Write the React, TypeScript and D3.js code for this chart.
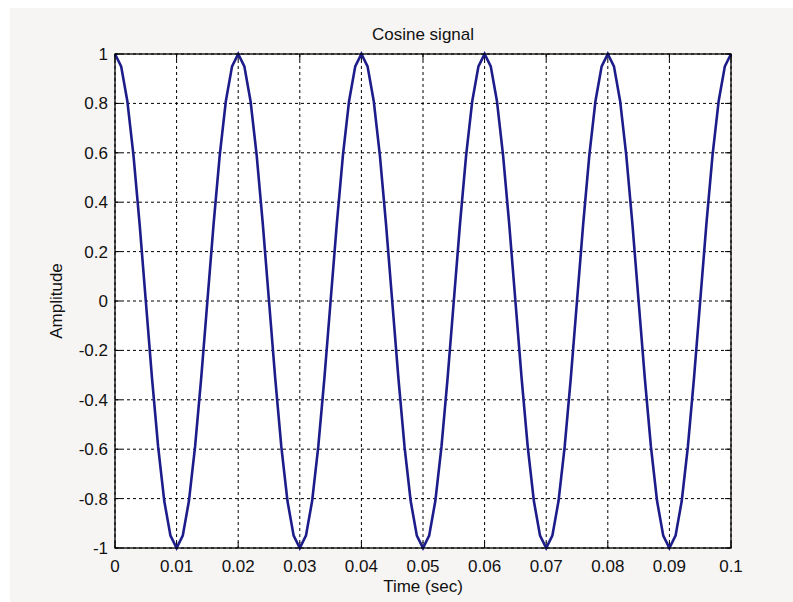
import React from "react";
import * as d3 from "d3";

const xTicks = [0, 0.01, 0.02, 0.03, 0.04, 0.05, 0.06, 0.07, 0.08, 0.09, 0.1];
const xTickLabels = ["0", "0.01", "0.02", "0.03", "0.04", "0.05", "0.06", "0.07", "0.08", "0.09", "0.1"];
const yTicks = [-1, -0.8, -0.6, -0.4, -0.2, 0, 0.2, 0.4, 0.6, 0.8, 1];
const yTickLabels = ["-1", "-0.8", "-0.6", "-0.4", "-0.2", "0", "0.2", "0.4", "0.6", "0.8", "1"];

const timeStep = 0.001;
const amplitude = [
  1, 0.95, 0.81, 0.59, 0.31, 0, -0.31, -0.59, -0.81, -0.95,
  -1, -0.95, -0.81, -0.59, -0.31, 0, 0.31, 0.59, 0.81, 0.95,
  1, 0.95, 0.81, 0.59, 0.31, 0, -0.31, -0.59, -0.81, -0.95,
  -1, -0.95, -0.81, -0.59, -0.31, 0, 0.31, 0.59, 0.81, 0.95,
  1, 0.95, 0.81, 0.59, 0.31, 0, -0.31, -0.59, -0.81, -0.95,
  -1, -0.95, -0.81, -0.59, -0.31, 0, 0.31, 0.59, 0.81, 0.95,
  1, 0.95, 0.81, 0.59, 0.31, 0, -0.31, -0.59, -0.81, -0.95,
  -1, -0.95, -0.81, -0.59, -0.31, 0, 0.31, 0.59, 0.81, 0.95,
  1, 0.95, 0.81, 0.59, 0.31, 0, -0.31, -0.59, -0.81, -0.95,
  -1, -0.95, -0.81, -0.59, -0.31, 0, 0.31, 0.59, 0.81, 0.95,
  1,
];

export default function App() {
  const W = 793, H = 602;
  const L = 115, R = 731, T = 54, B = 548;
  const x = d3.scaleLinear().domain([0, 0.1]).range([L, R]);
  const y = d3.scaleLinear().domain([-1, 1]).range([B, T]);
  const line = d3
    .line<number>()
    .x((_, i) => x(i * timeStep))
    .y((d) => y(d));
  const font = "Liberation Sans, Arial, sans-serif";
  const fs = 17;
  const tl = 6;
  return (
    <svg
      width={W}
      height={H}
      style={{ position: "absolute", left: 0, top: 0, display: "block" }}
    >
      <rect x={0} y={0} width={W} height={H} fill="#ffffff" />
      <rect x={10} y={8} width={W - 10} height={H - 8} fill="#f7f5f3" />
      <rect x={L} y={T} width={R - L} height={B - T} fill="#ffffff" />
      {/* grid */}
      {xTicks.map((t, i) => (
        <line key={"gx" + i} x1={x(t)} x2={x(t)} y1={T} y2={B} stroke="#000" strokeWidth={1} strokeDasharray="3,3" />
      ))}
      {yTicks.map((t, i) => (
        <line key={"gy" + i} x1={L} x2={R} y1={y(t)} y2={y(t)} stroke="#000" strokeWidth={1} strokeDasharray="3,3" />
      ))}
      {/* ticks */}
      {xTicks.map((t, i) => (
        <g key={"tx" + i}>
          <line x1={x(t)} x2={x(t)} y1={B} y2={B - tl} stroke="#000" />
          <line x1={x(t)} x2={x(t)} y1={T} y2={T + tl} stroke="#000" />
        </g>
      ))}
      {yTicks.map((t, i) => (
        <g key={"ty" + i}>
          <line x1={L} x2={L + tl} y1={y(t)} y2={y(t)} stroke="#000" />
          <line x1={R} x2={R - tl} y1={y(t)} y2={y(t)} stroke="#000" />
        </g>
      ))}
      {/* signal */}
      <path d={line(amplitude) || ""} fill="none" stroke="#1c1c8a" strokeWidth={2.6} strokeLinejoin="miter" />
      <rect x={L} y={T} width={R - L} height={B - T} fill="none" stroke="#000" strokeWidth={1.3} />
      {/* tick labels */}
      {xTicks.map((t, i) => (
        <text key={"lx" + i} x={x(t)} y={B + 24} textAnchor="middle" fontFamily={font} fontSize={fs} fill="#111">
          {xTickLabels[i]}
        </text>
      ))}
      {yTicks.map((t, i) => (
        <text key={"ly" + i} x={L - 7} y={y(t) + 6} textAnchor="end" fontFamily={font} fontSize={fs} fill="#111">
          {yTickLabels[i]}
        </text>
      ))}
      <text x={(L + R) / 2} y={40} textAnchor="middle" fontFamily={font} fontSize={fs} fill="#111">
        Cosine signal
      </text>
      <text x={(L + R) / 2} y={592} textAnchor="middle" fontFamily={font} fontSize={fs} fill="#111">
        Time (sec)
      </text>
      <text
        transform={`translate(62,${(T + B) / 2}) rotate(-90)`}
        textAnchor="middle"
        fontFamily={font}
        fontSize={fs}
        fill="#111"
      >
        Amplitude
      </text>
    </svg>
  );
}
